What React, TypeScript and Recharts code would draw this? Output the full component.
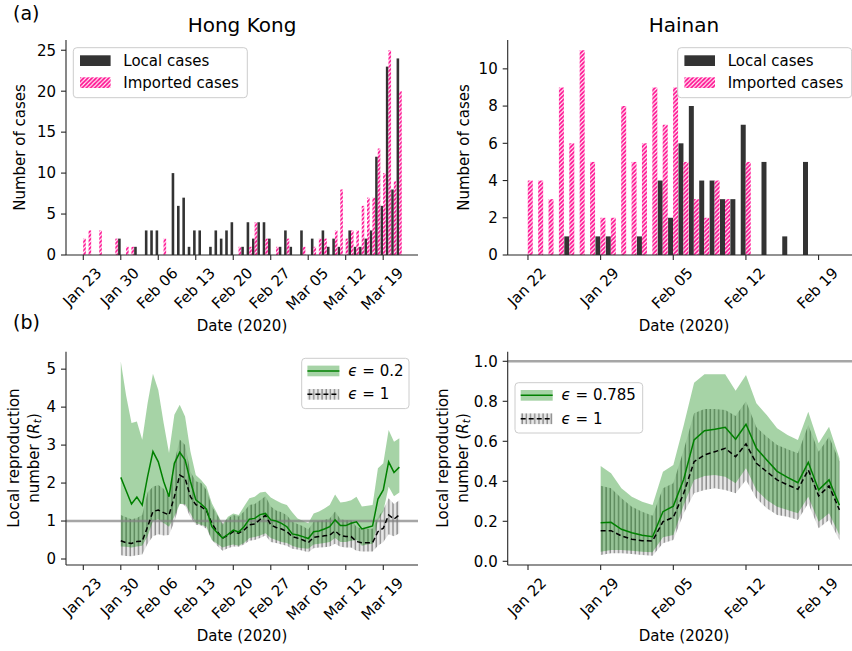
import { BarChart, Bar, ComposedChart, Area, Line, XAxis, YAxis, ReferenceLine } from 'recharts';

const FONT = '"DejaVu Sans", "Liberation Sans", sans-serif';
const INK = '#000';
const AXIS = '#262626';
const LOCAL_COLOR = '#333333';
const PINK = '#ff1493';
const GREEN = '#008000';

// Hong Kong daily cases, Jan 23 .. Mar 22 2020
const hkLocal = [
  0, 0, 0, 0, 0, 0, 0, 2, 0, 0,
  1, 0, 3, 3, 3, 0, 0, 10, 6, 7,
  1, 3, 3, 0, 1, 3, 2, 3, 4, 0,
  1, 4, 2, 4, 4, 2, 0, 1, 3, 1,
  0, 3, 0, 2, 0, 3, 1, 2, 1, 0,
  3, 1, 1, 2, 3, 12, 6, 23, 8, 24,
];
const hkImported = [
  2, 3, 0, 3, 0, 0, 2, 0, 1, 1,
  0, 0, 0, 0, 0, 2, 0, 0, 0, 0,
  0, 0, 0, 0, 0, 0, 0, 0, 0, 1,
  0, 1, 4, 0, 2, 0, 1, 0, 2, 0,
  0, 1, 0, 1, 2, 2, 0, 3, 8, 2,
  3, 3, 6, 7, 7, 13, 10, 25, 9, 20,
];

// Hainan daily cases, Jan 22 .. Feb 21 2020
const hnLocal = [
  0, 0, 0, 0, 1, 0, 0, 1, 1, 0,
  0, 1, 0, 4, 2, 6, 8, 4, 4, 3,
  3, 7, 0, 5, 0, 1, 0, 5, 0, 0,
  0,
];
const hnImported = [
  4, 4, 3, 9, 6, 11, 5, 2, 2, 8,
  5, 6, 9, 7, 9, 5, 3, 2, 4, 3,
  0, 5, 0, 0, 0, 0, 0, 0, 0, 0,
  0,
];

// Hong Kong local R_t, Jan 30 .. Mar 22 (eps = 0.2 and eps = 1)
const hkR02 = [
  2.15, 1.80, 1.45, 1.63, 1.42, 2.17, 2.83, 2.56, 2.04, 1.64,
  2.52, 2.81, 2.61, 2.04, 1.56, 1.45, 1.31, 0.85, 0.69, 0.55,
  0.65, 0.76, 0.71, 0.85, 1.05, 1.07, 1.17, 1.20, 1.03, 1.00,
  0.94, 0.85, 0.66, 0.63, 0.59, 0.54, 0.72, 0.74, 0.79, 0.85,
  1.03, 0.88, 0.88, 0.94, 0.98, 0.79, 0.83, 0.87, 1.58, 1.82,
  2.56, 2.28, 2.42,
];
const hkR02Lo = [
  0.33, 0.32, 0.30, 0.33, 0.35, 0.60, 1.00, 1.05, 0.95, 0.85,
  1.12, 1.45, 1.45, 1.20, 0.95, 0.90, 0.85, 0.50, 0.40, 0.30,
  0.35, 0.38, 0.35, 0.42, 0.55, 0.58, 0.62, 0.68, 0.55, 0.50,
  0.45, 0.42, 0.35, 0.30, 0.28, 0.27, 0.38, 0.40, 0.42, 0.45,
  0.55, 0.45, 0.45, 0.48, 0.50, 0.35, 0.38, 0.40, 1.00, 1.25,
  1.90, 1.65, 1.75,
];
const hkR02Hi = [
  5.20, 4.30, 3.58, 3.62, 3.14, 4.10, 4.88, 4.45, 3.58, 2.79,
  3.80, 4.06, 3.75, 2.83, 2.21, 2.08, 1.91, 1.47, 1.20, 0.90,
  1.11, 1.20, 1.16, 1.38, 1.60, 1.64, 1.75, 1.77, 1.62, 1.54,
  1.47, 1.42, 1.23, 1.07, 1.01, 0.94, 1.20, 1.25, 1.33, 1.42,
  1.70, 1.49, 1.51, 1.55, 1.64, 1.38, 1.40, 1.42, 2.39, 2.52,
  3.40, 3.09, 3.18,
];
const hkR1 = [
  0.48, 0.43, 0.41, 0.46, 0.47, 0.85, 1.25, 1.29, 1.22, 1.16,
  1.64, 2.21, 2.13, 1.64, 1.43, 1.38, 1.27, 0.94, 0.72, 0.55,
  0.63, 0.72, 0.68, 0.76, 0.90, 0.92, 1.04, 1.15, 0.90, 0.83,
  0.79, 0.72, 0.59, 0.55, 0.50, 0.43, 0.57, 0.59, 0.61, 0.63,
  0.74, 0.62, 0.59, 0.59, 0.46, 0.43, 0.43, 0.43, 0.72, 0.81,
  1.16, 1.05, 1.16,
];
const hkR1Lo = [
  0.10, 0.08, 0.07, 0.10, 0.12, 0.40, 0.60, 0.65, 0.62, 0.63,
  0.98, 1.47, 1.40, 1.10, 0.90, 0.88, 0.80, 0.50, 0.35, 0.22,
  0.28, 0.33, 0.32, 0.38, 0.48, 0.50, 0.55, 0.62, 0.45, 0.42,
  0.38, 0.35, 0.27, 0.25, 0.22, 0.18, 0.28, 0.30, 0.31, 0.33,
  0.40, 0.32, 0.30, 0.30, 0.22, 0.20, 0.20, 0.20, 0.35, 0.45,
  0.65, 0.60, 0.68,
];
const hkR1Hi = [
  1.16, 1.10, 1.05, 1.08, 1.16, 1.75, 1.90, 1.95, 1.85, 1.64,
  2.55, 3.15, 3.00, 2.30, 2.05, 2.00, 1.82, 1.38, 1.16, 0.95,
  1.07, 1.16, 1.12, 1.25, 1.42, 1.45, 1.55, 1.65, 1.38, 1.28,
  1.23, 1.15, 0.98, 0.92, 0.86, 0.78, 0.98, 1.00, 1.03, 1.07,
  1.25, 1.05, 1.02, 1.02, 0.85, 0.80, 0.80, 0.80, 1.10, 1.30,
  1.60, 1.45, 1.55,
];

// Hainan local R_t, Jan 29 .. Feb 21 (eps = 0.785 and eps = 1)
const hnR078 = [
  0.193, 0.195, 0.160, 0.143, 0.130, 0.123, 0.248, 0.276, 0.410, 0.607,
  0.653, 0.660, 0.670, 0.610, 0.685, 0.565, 0.507, 0.450, 0.420, 0.393,
  0.495, 0.357, 0.407, 0.280,
];
const hnR078Lo = [
  0.048, 0.057, 0.057, 0.053, 0.048, 0.045, 0.120, 0.132, 0.280, 0.407,
  0.427, 0.432, 0.423, 0.390, 0.465, 0.357, 0.307, 0.273, 0.257, 0.240,
  0.323, 0.198, 0.240, 0.132,
];
const hnR078Hi = [
  0.477, 0.440, 0.365, 0.323, 0.298, 0.282, 0.448, 0.482, 0.680, 0.893,
  0.935, 0.935, 0.935, 0.853, 0.932, 0.790, 0.731, 0.665, 0.632, 0.607,
  0.748, 0.590, 0.673, 0.515,
];
const hnR1 = [
  0.153, 0.153, 0.127, 0.110, 0.103, 0.102, 0.198, 0.220, 0.340, 0.498,
  0.532, 0.548, 0.565, 0.523, 0.587, 0.490, 0.448, 0.407, 0.382, 0.360,
  0.457, 0.327, 0.377, 0.257,
];
const hnR1Lo = [
  0.032, 0.040, 0.040, 0.037, 0.032, 0.028, 0.090, 0.107, 0.240, 0.340,
  0.357, 0.365, 0.357, 0.340, 0.407, 0.315, 0.265, 0.232, 0.223, 0.207,
  0.290, 0.165, 0.207, 0.107,
];
const hnR1Hi = [
  0.378, 0.365, 0.315, 0.273, 0.248, 0.228, 0.365, 0.390, 0.557, 0.740,
  0.762, 0.762, 0.757, 0.727, 0.800, 0.670, 0.623, 0.582, 0.560, 0.540,
  0.682, 0.548, 0.623, 0.500,
];

const hkTickDays = [0, 7, 14, 21, 28, 35, 42, 49, 56];
const hkTickLabels = ['Jan 23', 'Jan 30', 'Feb 06', 'Feb 13', 'Feb 20', 'Feb 27', 'Mar 05', 'Mar 12', 'Mar 19'];
const hnTickDays = [0, 7, 14, 21, 28];
const hnTickLabels = ['Jan 22', 'Jan 29', 'Feb 05', 'Feb 12', 'Feb 19'];
const hkCaseTicks = [0, 5, 10, 15, 20, 25];
const hnCaseTicks = [0, 2, 4, 6, 8, 10];
const hkRTicks = [0, 1, 2, 3, 4, 5];
const hnRTicks = [0, 0.2, 0.4, 0.6, 0.8, 1.0];

// day index -> bar row, padded so the band axis spans a few empty days on each side
const barRows = (local: number[], imported: number[], from: number, to: number) => {
  const rows = [];
  for (let d = from; d <= to; d++) {
    rows.push({ d, local: local[d] ?? null, imported: imported[d] ?? null });
  }
  return rows;
};
const hkBars = barRows(hkLocal, hkImported, -2, 62);
const hnBars = barRows(hnLocal, hnImported, -1, 31);

const rRows = (first: number, mid: number[], lo: number[], hi: number[], mid1: number[], lo1: number[], hi1: number[]) =>
  mid.map((v, i) => ({
    d: first + i,
    mid: v,
    band: [lo[i], hi[i]],
    mid1: mid1[i],
    band1: [lo1[i], hi1[i]],
  }));
const hkR = rRows(7, hkR02, hkR02Lo, hkR02Hi, hkR1, hkR1Lo, hkR1Hi);
const hnR = rRows(7, hnR078, hnR078Lo, hnR078Hi, hnR1, hnR1Lo, hnR1Hi);

let measureCtx: CanvasRenderingContext2D | null = null;
const textWidth = (s: string) => {
  if (!measureCtx && typeof document !== 'undefined') measureCtx = document.createElement('canvas').getContext('2d');
  if (!measureCtx) return s.length * 8.5;
  measureCtx.font = `15px ${FONT}`;
  return measureCtx.measureText(s).width;
};

// rotated date labels, box centred under the tick
const dateTick = (days: number[], labels: string[]) => (props: any) => {
  const { x, y, payload } = props;
  const i = days.indexOf(payload.value);
  if (i < 0) return <g />;
  const s = labels[i];
  const off = (textWidth(s) + 13) / 2.83;
  return (
    <text
      transform={`translate(${x - 1},${y + 4 + off}) rotate(-45)`}
      textAnchor="middle"
      dominantBaseline="central"
      fontSize={15}
      fill={INK}
      fontFamily={FONT}
    >
      {s}
    </text>
  );
};
const hkDateTick = dateTick(hkTickDays, hkTickLabels);
const hnDateTick = dateTick(hnTickDays, hnTickLabels);

const axisLine = { stroke: AXIS, strokeWidth: 1.1 };
const yTick = { fontSize: 15, fill: INK, fontFamily: FONT };

const PinkHatch = ({ id }: { id: string }) => (
  <pattern id={id} patternUnits="userSpaceOnUse" width={4.2} height={4.2}>
    <rect width={4.2} height={4.2} fill={PINK} />
    <path d="M0,4.2 L4.2,0 M-1.05,1.05 L1.05,-1.05 M3.15,5.25 L5.25,3.15" stroke="#fff" strokeWidth={1.1} />
  </pattern>
);

const GrayHatch = ({ id }: { id: string }) => (
  <pattern id={id} patternUnits="userSpaceOnUse" width={4.17} height={8}>
    <rect width={4.17} height={8} fill="#808080" fillOpacity={0.2} />
    <line x1={1} y1={0} x2={1} y2={8} stroke="#8c8c8c" strokeWidth={1.4} />
  </pattern>
);

const HkCases = () => (
  <BarChart width={430} height={340} data={hkBars} margin={{ top: 40, right: 12, bottom: 25, left: 0 }} barGap={0}>
    <defs>
      <PinkHatch id="pinkHk" />
    </defs>
    <XAxis
      dataKey="d"
      type="category"
      allowDuplicatedCategory={false}
      ticks={hkTickDays}
      interval={0}
      tick={hkDateTick}
      height={60}
      padding={{ left: 3.9, right: 0 }}
      tickSize={5}
      axisLine={axisLine}
      tickLine={axisLine}
    />
    <YAxis type="number" domain={[0, 26.25]} allowDataOverflow ticks={hkCaseTicks} interval={0} width={66}
      tickSize={5} tickMargin={5} tick={yTick} axisLine={axisLine} tickLine={axisLine} />
    <Bar dataKey="local" fill={LOCAL_COLOR} barSize={2.6} isAnimationActive={false} />
    <Bar dataKey="imported" fill="url(#pinkHk)" barSize={2.6} isAnimationActive={false} />
  </BarChart>
);

const HnCases = () => (
  <BarChart width={436} height={340} data={hnBars} margin={{ top: 40, right: 5.3, bottom: 25, left: 0 }} barGap={0}>
    <defs>
      <PinkHatch id="pinkHn" />
    </defs>
    <XAxis
      dataKey="d"
      type="category"
      allowDuplicatedCategory={false}
      ticks={hnTickDays}
      interval={0}
      tick={hnDateTick}
      height={60}
      padding={{ left: 4.7, right: 5.8 }}
      tickSize={5}
      axisLine={axisLine}
      tickLine={axisLine}
    />
    <YAxis type="number" domain={[0, 11.55]} allowDataOverflow ticks={hnCaseTicks} interval={0} width={77.7}
      tickSize={5} tickMargin={5} tick={yTick} axisLine={axisLine} tickLine={axisLine} />
    <Bar dataKey="local" fill={LOCAL_COLOR} barSize={5} isAnimationActive={false} />
    <Bar dataKey="imported" fill="url(#pinkHn)" barSize={5} isAnimationActive={false} />
  </BarChart>
);

const RChart = ({ data, width, right, yWidth, xDomain, yDomain, yTicks, days, tick, hatchId, yFmt }: any) => (
  <ComposedChart width={width} height={351} data={data} margin={{ top: 51.7, right, bottom: 26, left: 0 }}>
    <defs>
      <GrayHatch id={hatchId} />
    </defs>
    <XAxis dataKey="d" type="number" domain={xDomain} allowDataOverflow ticks={days} interval={0} tick={tick}
      height={60} tickSize={5} axisLine={axisLine} tickLine={axisLine} />
    <YAxis type="number" domain={yDomain} allowDataOverflow ticks={yTicks} interval={0} width={yWidth}
      tickSize={5} tickMargin={5} tick={yTick} tickFormatter={yFmt} axisLine={axisLine} tickLine={axisLine} />
    <Area dataKey="band1" fill={`url(#${hatchId})`} fillOpacity={1} stroke="none" isAnimationActive={false} />
    <Area dataKey="band" fill={GREEN} fillOpacity={0.35} stroke="none" isAnimationActive={false} />
    <ReferenceLine y={1} stroke="#808080" strokeOpacity={0.7} strokeWidth={2.6} />
    <Line dataKey="mid1" stroke="#000" strokeWidth={1.5} strokeDasharray="5 3" dot={false} isAnimationActive={false} />
    <Line dataKey="mid" stroke={GREEN} strokeWidth={1.5} dot={false} isAnimationActive={false} />
  </ComposedChart>
);

const CasesLegend = ({ x, y, fill }: { x: number; y: number; fill: string }) => (
  <g>
    <rect x={x} y={y} width={174} height={50} rx={3.5} fill="#fff" fillOpacity={0.8} stroke="#cccccc" />
    <rect x={x + 6.7} y={y + 7.6} width={30.6} height={10.7} fill={LOCAL_COLOR} />
    <text x={x + 50} y={y + 13} dominantBaseline="central" fontSize={15}>Local cases</text>
    <rect x={x + 6.7} y={y + 29.6} width={30.6} height={10.7} fill={fill} />
    <text x={x + 50} y={y + 35} dominantBaseline="central" fontSize={15}>Imported cases</text>
  </g>
);

const RLegend = ({ x, y, w, eps, hatch }: { x: number; y: number; w: number; eps: string; hatch: string }) => (
  <g>
    <rect x={x} y={y} width={w} height={50.3} rx={3.5} fill="#fff" fillOpacity={0.8} stroke="#cccccc" />
    <rect x={x + 5.7} y={y + 7.3} width={32} height={10.7} fill={GREEN} fillOpacity={0.35} />
    <line x1={x + 5.7} x2={x + 37.7} y1={y + 12.6} y2={y + 12.6} stroke={GREEN} strokeWidth={1.5} />
    <text x={x + 46.6} y={y + 12.6} dominantBaseline="central" fontSize={15}>
      <tspan fontStyle="italic">ϵ</tspan>{` = ${eps}`}
    </text>
    <rect x={x + 5.7} y={y + 30.7} width={32} height={10.7} fill={hatch} />
    <line x1={x + 5.7} x2={x + 37.7} y1={y + 36} y2={y + 36} stroke="#000" strokeWidth={1.5} strokeDasharray="5 3" />
    <text x={x + 46.6} y={y + 36} dominantBaseline="central" fontSize={15}>
      <tspan fontStyle="italic">ϵ</tspan>{' = 1'}
    </text>
  </g>
);

const RLabel = ({ x, y }: { x: number; y: number }) => (
  <g transform={`translate(${x},${y}) rotate(-90)`} fontSize={15}>
    <text x={0} y={0} textAnchor="middle" dominantBaseline="central">Local reproduction</text>
    <text x={0} y={20} textAnchor="middle" dominantBaseline="central">
      number (<tspan fontStyle="italic">R</tspan>
      <tspan fontStyle="italic" fontSize={10.5} dy={3}>t</tspan>
      <tspan dy={-3}>)</tspan>
    </text>
  </g>
);

export default function App() {
  return (
    <div
      style={{
        position: 'absolute', left: 0, top: 0, width: 852, height: 651,
        overflow: 'hidden', background: '#fff', fontFamily: FONT, color: INK,
      }}
    >
      <div style={{ position: 'absolute', left: 0, top: 0 }}>
        <HkCases />
      </div>
      <div style={{ position: 'absolute', left: 430, top: 0 }}>
        <HnCases />
      </div>
      <div style={{ position: 'absolute', left: 0, top: 300 }}>
        <RChart data={hkR} width={430} right={12} yWidth={66} xDomain={[-3.23, 62.48]} yDomain={[-0.158, 5.46]}
          yTicks={hkRTicks} days={hkTickDays} tick={hkDateTick} hatchId="grayHk" yFmt={(v: number) => String(v)} />
      </div>
      <div style={{ position: 'absolute', left: 430, top: 300 }}>
        <RChart data={hnR} width={436} right={5.3} yWidth={77.7} xDomain={[-1.956, 32.05]} yDomain={[-0.0185, 1.048]}
          yTicks={hnRTicks} days={hnTickDays} tick={hnDateTick} hatchId="grayHn" yFmt={(v: number) => v.toFixed(1)} />
      </div>

      <svg width={852} height={651} style={{ position: 'absolute', left: 0, top: 0 }} fontFamily={FONT} fill={INK}>
        <defs>
          <PinkHatch id="pinkLegend" />
          <GrayHatch id="grayLegend" />
        </defs>
        <text x={13} y={20} fontSize={19}>(a)</text>
        <text x={13} y={329} fontSize={19}>(b)</text>
        <text x={242} y={32} fontSize={20} textAnchor="middle">Hong Kong</text>
        <text x={684} y={32} fontSize={20} textAnchor="middle">Hainan</text>

        <text transform="translate(20,147.5) rotate(-90)" textAnchor="middle" dominantBaseline="central" fontSize={15}>Number of cases</text>
        <text transform="translate(464,147.5) rotate(-90)" textAnchor="middle" dominantBaseline="central" fontSize={15}>Number of cases</text>
        <text x={242} y={331} textAnchor="middle" fontSize={15}>Date (2020)</text>
        <text x={684} y={331} textAnchor="middle" fontSize={15}>Date (2020)</text>
        <text x={242} y={641} textAnchor="middle" fontSize={15}>Date (2020)</text>
        <text x={684} y={641} textAnchor="middle" fontSize={15}>Date (2020)</text>
        <RLabel x={14} y={458} />
        <RLabel x={443} y={458} />

        <CasesLegend x={73.3} y={47.7} fill="url(#pinkLegend)" />
        <CasesLegend x={677.7} y={47.7} fill="url(#pinkLegend)" />
        <RLegend x={301.7} y={358.3} w={107.3} eps="0.2" hatch="url(#grayLegend)" />
        <RLegend x={515} y={382.7} w={127.7} eps="0.785" hatch="url(#grayLegend)" />
      </svg>
    </div>
  );
}
